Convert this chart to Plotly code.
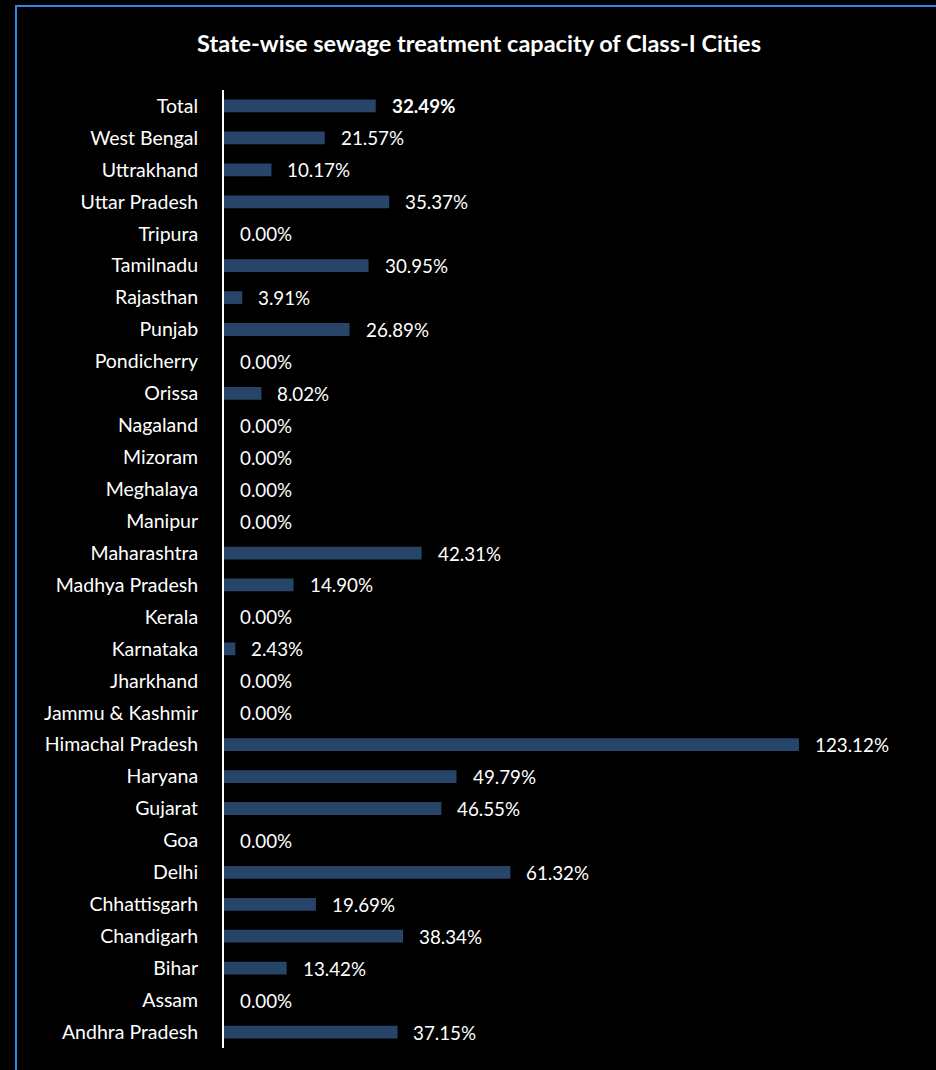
import plotly.graph_objects as go

# Sewage treatment capacity (% of sewage generated), listed top to bottom
states = [
    "Total", "West Bengal", "Uttrakhand", "Uttar Pradesh", "Tripura", "Tamilnadu",
    "Rajasthan", "Punjab", "Pondicherry", "Orissa", "Nagaland", "Mizoram",
    "Meghalaya", "Manipur", "Maharashtra", "Madhya Pradesh", "Kerala", "Karnataka",
    "Jharkhand", "Jammu & Kashmir", "Himachal Pradesh", "Haryana", "Gujarat", "Goa",
    "Delhi", "Chhattisgarh", "Chandigarh", "Bihar", "Assam", "Andhra Pradesh",
]
capacity_pct = [
    32.49, 21.57, 10.17, 35.37, 0.00, 30.95,
    3.91, 26.89, 0.00, 8.02, 0.00, 0.00,
    0.00, 0.00, 42.31, 14.90, 0.00, 2.43,
    0.00, 0.00, 123.12, 49.79, 46.55, 0.00,
    61.32, 19.69, 38.34, 13.42, 0.00, 37.15,
]

W, H = 936, 1070
ML, MR, MT, MB = 224, 36, 90, 22
plot_w = W - ML - MR
plot_h = H - MT - MB
px_per_unit = 4.67
x_max = plot_w / px_per_unit

FONT = "Lato"
bar_color = "#274469"
border_color = "#2F87E4"

fig = go.Figure(
    go.Bar(
        x=capacity_pct,
        y=states,
        orientation="h",
        marker=dict(color=bar_color, line=dict(width=0)),
        width=0.4,
        hoverinfo="skip",
    )
)

for name, val in zip(states, capacity_pct):
    label = f"{val:.2f}%"
    if name == "Total":
        label = f"<b>{label}</b>"
    fig.add_annotation(
        x=val, y=name, text=label, showarrow=False,
        xanchor="left", yanchor="middle", xshift=14,
        font=dict(family=FONT, size=18.8, color="white"),
    )

# Outer frame of the chart area
def px_to_paper_x(px):
    return (px - ML) / plot_w

def px_to_paper_y(py):
    return (H - MB - py) / plot_h

fig.add_shape(
    type="rect", xref="paper", yref="paper",
    x0=px_to_paper_x(16), x1=px_to_paper_x(W + 20),
    y0=px_to_paper_y(H + 20), y1=px_to_paper_y(6),
    line=dict(color=border_color, width=2), fillcolor="rgba(0,0,0,0)",
    layer="below",
)

fig.update_layout(
    width=W, height=H,
    margin=dict(l=ML, r=MR, t=MT, b=MB, pad=0),
    paper_bgcolor="black", plot_bgcolor="black",
    showlegend=False,
    title=dict(
        text="<b>State-wise sewage treatment capacity of Class-I Cities</b>",
        x=(479) / W, xanchor="center", y=1 - 44 / H, yanchor="middle",
        font=dict(family=FONT, size=23.5, color="white"),
    ),
    xaxis=dict(
        range=[0, x_max], visible=False, showgrid=False, zeroline=False, fixedrange=True,
    ),
    yaxis=dict(
        autorange="reversed", showgrid=False, zeroline=False,
        showline=True, linecolor="white", linewidth=2,
        ticks="", ticklabelstandoff=20,
        tickfont=dict(family=FONT, size=19.5, color="white"),
        fixedrange=True,
    ),
    bargap=0.6,
)

fig.write_html("out.html")
